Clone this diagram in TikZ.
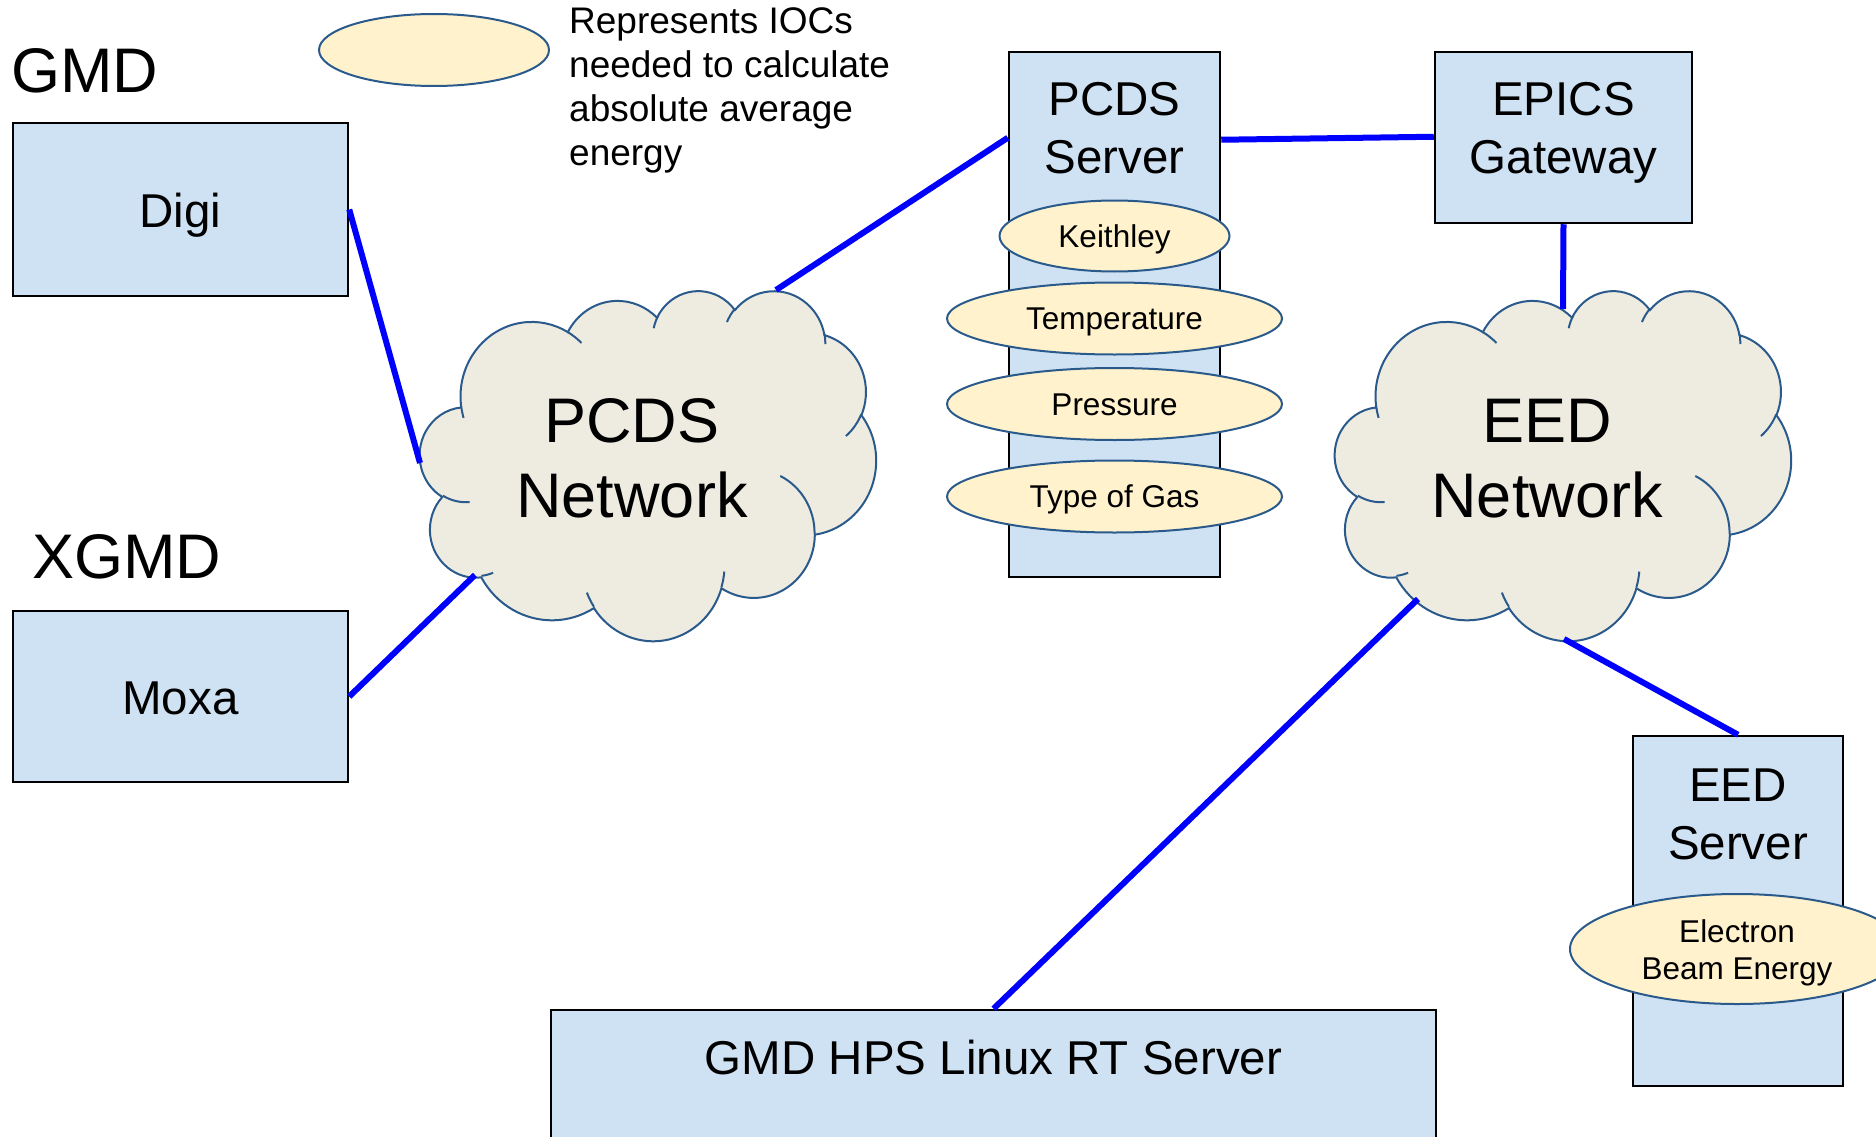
\documentclass[tikz,border=0pt]{standalone}
\usepackage{fontspec}
\setmainfont{Liberation Sans}
\usetikzlibrary{shapes.geometric,calc}

\definecolor{srvfill}{HTML}{CFE2F3}
\definecolor{iocfill}{HTML}{FFF2CC}
\definecolor{netfill}{HTML}{EEECE1}
\definecolor{outline}{HTML}{2A5A8C}
\definecolor{linkblue}{HTML}{0000FF}

% elliptical arc given by its visual start angle and sweep (degrees)
\newcommand\carc[4]{let \n1={atan2((#1)*sin(#3),(#2)*cos(#3))},
  \n2={atan2((#1)*sin((#3)+(#4)),(#2)*cos((#3)+(#4)))},
  \n3={mod((\n2)-(\n1)+720,360)}
  in arc[start angle=\n1, delta angle=\n3, x radius=#1, y radius=#2]}

% network cloud in a frame: top-left corner (#1,#2), width #3, height #4
\newcommand\netcloud[4]{%
  \begin{scope}[shift={(#1,#2)}, x=1pt, y=1pt, xscale=#3/432, yscale=-#4/432]
    \draw[cloudedge, fill=netfill] (39.00,143.70)
      \carc{67.53}{91.90}{-190.4875}{123.7805}
      \carc{53.33}{72.67}{-144.1024}{89.9452}
      \carc{43.65}{59.45}{-145.8079}{99.7230}
      \carc{48.57}{65.95}{-130.9861}{117.2417}
      \carc{53.33}{72.73}{-78.7089}{109.0269}
      \carc{67.75}{92.20}{-46.2673}{130.2690}
      \carc{57.85}{78.67}{0.6250}{114.0333}
      \carc{67.52}{92.15}{22.4516}{115.1726}
      \carc{77.20}{105.43}{66.2426}{75.7110}
      \carc{43.60}{59.18}{-274.9421}{146.7356}
      \carc{43.45}{59.45}{-246.8285}{152.5189}
      -- cycle;
    \draw[cloudedge]
      (46.93,261.77) \carc{43.45}{59.45}{86.7420}{26.4295}
      (69.28,348.99) \carc{43.60}{59.18}{73.6105}{11.4475}
      (164.78,390.90) \carc{67.52}{92.15}{137.6242}{14.0811}
      (288.27,347.51) \carc{67.52}{92.15}{6.4533}{15.9984}
      (341.29,229.54) \carc{57.85}{78.67}{-70.2924}{70.9174}
      (417.98,153.54) \carc{53.33}{72.73}{30.3180}{27.7515}
      (383.24,54.26) \carc{48.57}{65.95}{-13.7443}{14.8589}
      (290.78,39.52) \carc{48.57}{65.95}{-149.1815}{18.1954}
      (221.41,47.20) \carc{43.65}{59.45}{-163.4943}{19.0066}
      (140.00,51.92) \carc{67.53}{91.90}{-66.7070}{12.3194}
      (41.27,157.89) \carc{67.53}{91.90}{157.6544}{11.8582};
  \end{scope}}

% multi-line texts are placed by the baseline of their last line
\tikzset{
  srv/.style={rectangle, draw=black, line width=2.5pt, fill=srvfill, inner sep=0pt},
  ioc/.style={ellipse, draw=outline, line width=2pt, fill=iocfill, inner sep=0pt},
  cloudedge/.style={draw=outline, line width=2pt},
  link/.style={draw=linkblue, line width=6pt},
  hdr/.style={anchor=base west, inner sep=0pt, font=\fontsize{63pt}{75pt}\selectfont},
  boxtxt/.style={anchor=base, inner sep=0pt, align=center, font=\fontsize{47.5pt}{58pt}\selectfont},
  nettxt/.style={anchor=base, inner sep=0pt, align=center, font=\fontsize{63pt}{75pt}\selectfont},
  ioctxt/.style={anchor=base, inner sep=0pt, align=center, font=\fontsize{31.5pt}{37pt}\selectfont},
  legendtxt/.style={anchor=base west, inner sep=0pt, align=left, font=\fontsize{37pt}{44pt}\selectfont},
}

\begin{document}
\begin{tikzpicture}[x=1pt, y=-1pt]
  \useasboundingbox (0,0) rectangle (1876,1137);
  \clip (0,0) rectangle (1876,1137);
  \fill[white] (0,0) rectangle (1876,1137);

  % servers and gateways
  \node[srv, minimum width=335pt, minimum height=173pt] (digi) at (180.5,209.5) {};
  \node[srv, minimum width=335pt, minimum height=171pt] (moxa) at (180.5,696.5) {};
  \node[srv, minimum width=211pt, minimum height=525pt] (pcdssrv) at (1114.5,314.5) {};
  \node[srv, minimum width=257pt, minimum height=171pt] (epics) at (1563.5,137.5) {};
  \node[srv, minimum width=210pt, minimum height=350pt] (eedsrv) at (1738,911) {};
  \node[srv, minimum width=885pt, minimum height=160pt] (hps) at (993.5,1090) {};

  % IOC ellipses
  \node[ioc, minimum width=230pt, minimum height=72pt] (legend) at (434,50) {};
  \node[ioc, minimum width=230pt, minimum height=71pt] (keith) at (1114.5,236) {};
  \node[ioc, minimum width=335pt, minimum height=72pt] (temp) at (1114.5,318.5) {};
  \node[ioc, minimum width=335pt, minimum height=72pt] (press) at (1114.5,404) {};
  \node[ioc, minimum width=335pt, minimum height=72pt] (gas) at (1114.5,496.5) {};
  \node[ioc, minimum width=334pt, minimum height=110pt] (beam) at (1737,949) {};

  % networks
  \netcloud{420}{290}{456}{350}
  \netcloud{1335}{290}{456}{350}

  % attachment points on the clouds
  \coordinate (pn-w) at (420,463);
  \coordinate (pn-sw) at (475,575);
  \coordinate (pn-n) at (776,290);
  \coordinate (en-n) at (1563,309);
  \coordinate (en-sw) at (1418,599);
  \coordinate (en-s) at (1564,639);

  % labels
  \node[hdr] (gmd) at (11,93) {GMD};
  \node[hdr] (xgmd) at (32,578) {XGMD};
  \node[legendtxt] (legend-t) at (569,165) {Represents IOCs\\needed to calculate\\absolute average\\energy};

  \node[boxtxt] (digi-t) at (180.5,227) {Digi};
  \node[boxtxt] (moxa-t) at (180.5,714) {Moxa};
  \node[boxtxt] (pcdssrv-t) at (1114.5,173) {PCDS\\Server};
  \node[boxtxt] (epics-t) at (1563.5,173) {EPICS\\Gateway};
  \node[boxtxt] (eedsrv-t) at (1738,859) {EED\\Server};
  \node[boxtxt] (hps-t) at (993.5,1074) {GMD HPS Linux RT Server};

  \node[nettxt] (pcdsnet-t) at (632,517) {PCDS\\Network};
  \node[nettxt] (eednet-t) at (1547,517) {EED\\Network};

  \node[ioctxt] (keith-t) at (1114.5,247) {Keithley};
  \node[ioctxt] (temp-t) at (1114.5,329) {Temperature};
  \node[ioctxt] (press-t) at (1114.5,415) {Pressure};
  \node[ioctxt] (gas-t) at (1114.5,507) {Type of Gas};
  \node[ioctxt] (beam-t) at (1737,979) {Electron\\Beam Energy};

  % network links
  \draw[link] (digi.east) -- (pn-w);
  \draw[link] (moxa.east) -- (pn-sw);
  \draw[link] (pn-n) -- ([yshift=-87pt]pcdssrv.north west);
  \draw[link] ([yshift=-89pt]pcdssrv.north east) -- ([yshift=-86pt]epics.north west);
  \draw[link] (epics.south) -- (en-n);
  \draw[link] (en-sw) -- (hps.north);
  \draw[link] (en-s) -- (eedsrv.north);
\end{tikzpicture}
\end{document}
